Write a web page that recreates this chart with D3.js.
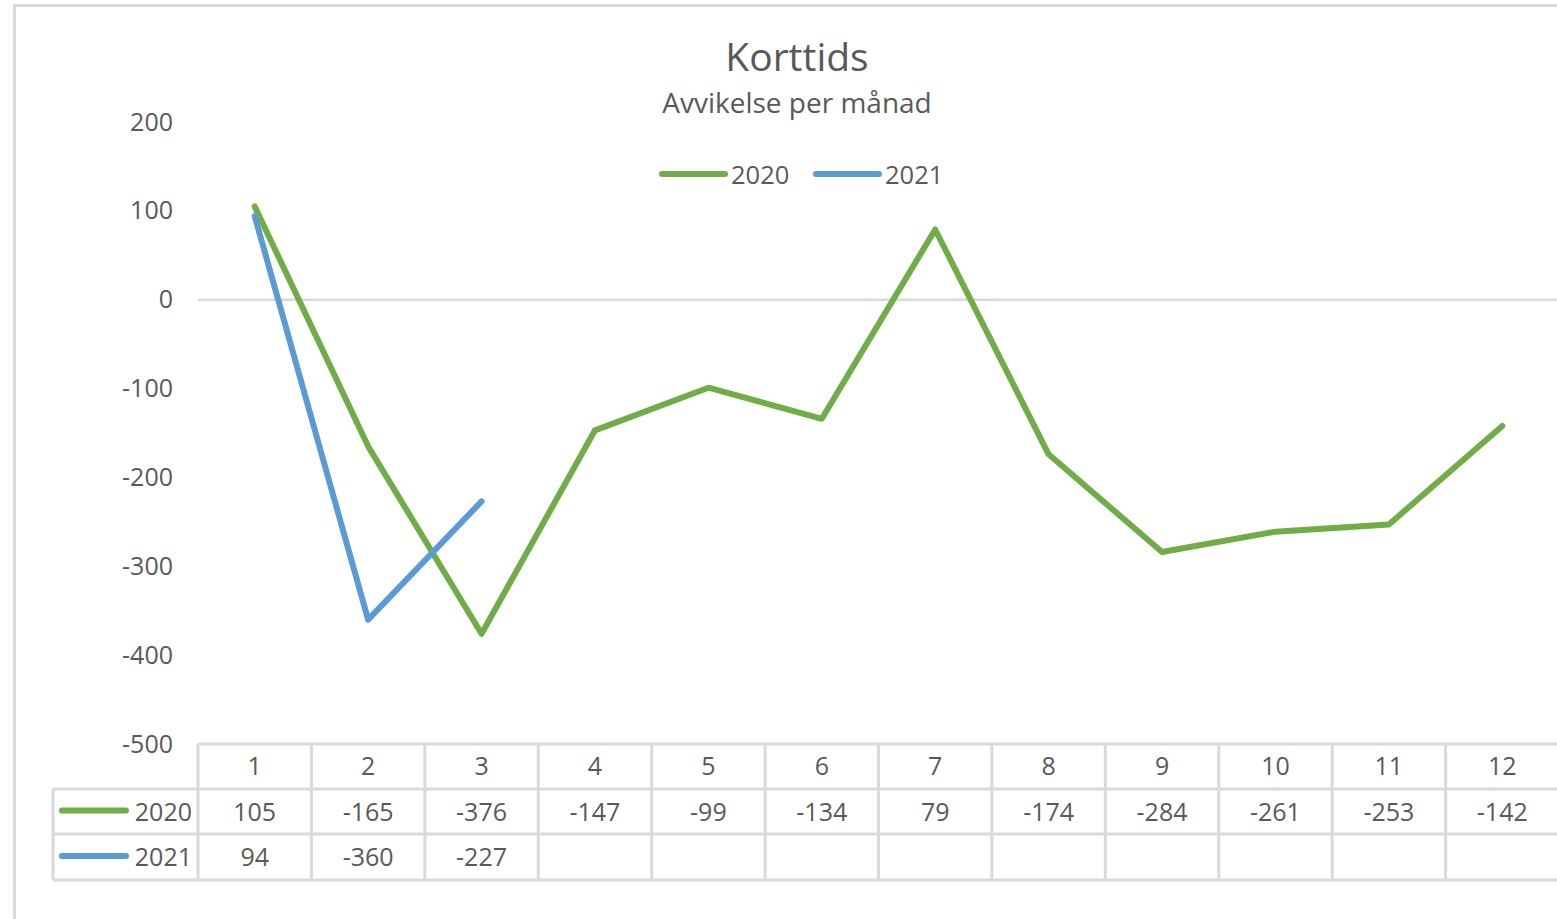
<!DOCTYPE html>
<html>
<head>
<meta charset="utf-8">
<script src="https://cdn.jsdelivr.net/npm/d3@7"></script>
<style>
  body { margin: 0; background: #fff; }
  svg { font-family: "Open Sans", Lato, sans-serif; }
</style>
</head>
<body>
<svg id="chart" width="1557" height="919"></svg>
<script>
const months = ['1', '2', '3', '4', '5', '6', '7', '8', '9', '10', '11', '12'];
const values2020 = [105, -165, -376, -147, -99, -134, 79, -174, -284, -261, -253, -142];
const values2021 = [94, -360, -227];
const yTicks = [200, 100, 0, -100, -200, -300, -400, -500];

const series = [
    { name: '2020', values: values2020, color: '#70ad47' },
    { name: '2021', values: values2021, color: '#5b9bd5' },
];

const textColor = '#595959';
const gridColor = '#d9d9d9';
const fontSize = 25;

const svg = d3.select('#chart');

// chart border
svg.append('rect')
    .attr('x', 14.5).attr('y', 5.5)
    .attr('width', 1600).attr('height', 1000)
    .attr('fill', '#fff')
    .attr('stroke', gridColor).attr('stroke-width', 3);

const x = d3.scaleBand().domain(months).range([198, 1559]);
const y = d3.scaleLinear().domain([-500, 200]).range([744, 122]);

// title
svg.append('text')
    .attr('x', 797).attr('y', 71)
    .attr('text-anchor', 'middle')
    .attr('font-size', 39)
    .attr('fill', textColor)
    .text('Korttids');
svg.append('text')
    .attr('x', 797).attr('y', 113)
    .attr('text-anchor', 'middle')
    .attr('font-size', 28)
    .attr('fill', textColor)
    .text('Avvikelse per månad');

// legend
const legend = svg.append('g').selectAll('g')
    .data(series)
    .enter()
    .append('g')
    .attr('transform', (d, i) => 'translate(' + (662 + i * 154) + ',174)');
legend.append('line')
    .attr('x1', 0).attr('x2', 63)
    .attr('stroke', d => d.color)
    .attr('stroke-width', 6)
    .attr('stroke-linecap', 'round');
legend.append('text')
    .attr('x', 69).attr('y', 9.5)
    .attr('font-size', 25.5)
    .attr('fill', textColor)
    .text(d => d.name);

// y axis labels
svg.append('g').selectAll('text')
    .data(yTicks)
    .enter()
    .append('text')
    .attr('x', 173)
    .attr('y', d => y(d) + 8.5)
    .attr('text-anchor', 'end')
    .attr('font-size', fontSize)
    .attr('fill', textColor)
    .text(d => d);

// zero line
svg.append('line')
    .attr('x1', 198).attr('x2', 1559)
    .attr('y1', y(0)).attr('y2', y(0))
    .attr('stroke', gridColor).attr('stroke-width', 2.5);

// data table
const rowTops = [744, 789, 834, 880];
const table = svg.append('g').attr('stroke', gridColor).attr('stroke-width', 3);
table.append('line').attr('x1', 198).attr('x2', 1559).attr('y1', rowTops[0]).attr('y2', rowTops[0]);
rowTops.slice(1).forEach(function (t) {
    table.append('line').attr('x1', 53).attr('x2', 1559).attr('y1', t).attr('y2', t);
});
table.append('line').attr('x1', 53).attr('x2', 53).attr('y1', rowTops[1]).attr('y2', rowTops[3]);
table.selectAll('.col')
    .data(months)
    .enter()
    .append('line')
    .attr('class', 'col')
    .attr('x1', d => x(d)).attr('x2', d => x(d))
    .attr('y1', rowTops[0]).attr('y2', rowTops[3]);

// header labels
svg.append('g').selectAll('text')
    .data(months)
    .enter()
    .append('text')
    .attr('x', d => x(d) + x.bandwidth() / 2)
    .attr('y', (rowTops[0] + rowTops[1]) / 2 + 8.5)
    .attr('text-anchor', 'middle')
    .attr('font-size', fontSize)
    .attr('fill', textColor)
    .text(d => d);

// series rows
series.forEach(function (s, i) {
    const cy = (rowTops[i + 1] + rowTops[i + 2]) / 2;
    svg.append('line')
        .attr('x1', 62).attr('x2', 126)
        .attr('y1', cy - 1).attr('y2', cy - 1)
        .attr('stroke', s.color).attr('stroke-width', 6)
        .attr('stroke-linecap', 'round');
    svg.append('text')
        .attr('x', 192).attr('y', cy + 9)
        .attr('text-anchor', 'end')
        .attr('font-size', fontSize)
        .attr('fill', textColor)
        .text(s.name);
    svg.append('g').selectAll('text')
        .data(s.values)
        .enter()
        .append('text')
        .attr('x', (d, j) => x(months[j]) + x.bandwidth() / 2)
        .attr('y', cy + 9)
        .attr('text-anchor', 'middle')
        .attr('font-size', fontSize)
        .attr('fill', textColor)
        .text(d => d);
});

// lines
const line = d3.line()
    .x((d, j) => x(months[j]) + x.bandwidth() / 2)
    .y(d => y(d));

svg.append('g').selectAll('path')
    .data(series)
    .enter()
    .append('path')
    .attr('d', d => line(d.values))
    .attr('fill', 'none')
    .attr('stroke', d => d.color)
    .attr('stroke-width', 6)
    .attr('stroke-linejoin', 'round')
    .attr('stroke-linecap', 'round');
</script>
</body>
</html>
